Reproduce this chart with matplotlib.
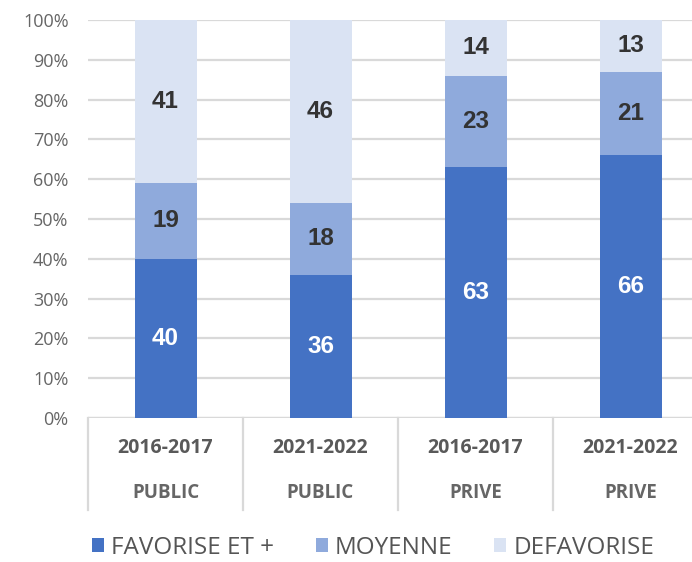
import matplotlib
matplotlib.use('Agg')
import matplotlib.pyplot as plt
from matplotlib.patches import Patch

years = ['2016-2017', '2021-2022', '2016-2017', '2021-2022']
sectors = ['PUBLIC', 'PUBLIC', 'PRIVE', 'PRIVE']
favorise = [40, 36, 63, 66]
moyenne = [19, 18, 23, 21]
defavorise = [41, 46, 14, 13]

series = [
    ('FAVORISE ET +', favorise, '#4472C4', 'white'),
    ('MOYENNE', moyenne, '#8FAADC', '#333333'),
    ('DEFAVORISE', defavorise, '#DAE3F3', '#333333'),
]

plt.rcParams['font.family'] = ['Open Sans', 'DejaVu Sans']

fig = plt.figure(figsize=(6.92, 5.62), dpi=100)
ax = fig.add_axes([88 / 692, 144 / 562, 620 / 692, 398 / 562])

x = list(range(len(years)))
bottom = [0] * len(x)
for name, vals, color, tcolor in series:
    ax.bar(x, vals, width=0.4, bottom=bottom, color=color, zorder=3)
    for xi, b, v in zip(x, bottom, vals):
        ax.text(xi, b + v / 2, str(v), ha='center', va='center', color=tcolor,
                fontsize=17.5, fontweight='bold', family='Liberation Sans', zorder=4)
    bottom = [b + v for b, v in zip(bottom, vals)]

ax.set_xlim(-0.5, 3.5)
ax.set_ylim(0, 100)
ax.set_yticks(range(0, 101, 10))
ax.set_yticklabels([f'{t}%' for t in range(0, 101, 10)], color='#666666', fontsize=13)
ax.tick_params(axis='y', length=0, pad=14)
ax.set_xticks([])
ax.yaxis.grid(True, color='#D9D9D9', linewidth=1.6, zorder=0)
for s in ax.spines.values():
    s.set_visible(False)
ax.axhline(0, color='#D9D9D9', linewidth=1.6, zorder=2)

# two-level category labels under the axis
trans = ax.get_xaxis_transform()
for xi, yr, sec in zip(x, years, sectors):
    ax.text(xi, -0.075, yr, transform=trans, ha='center', va='center',
            fontsize=14, fontweight='bold', color='#595959')
    ax.text(xi, -0.188, sec, transform=trans, ha='center', va='center',
            fontsize=13.5, fontweight='bold', color='#666666')
for sep in [-0.5, 0.5, 1.5, 2.5, 3.5]:
    ax.plot([sep, sep], [0, -0.23], transform=trans, color='#D9D9D9',
            linewidth=1.6, clip_on=False)

handles = [Patch(facecolor=c, label=n) for n, _, c, _ in series]
fig.legend(handles=handles, loc='center left', bbox_to_anchor=(70 / 692, 1 - 548 / 562),
           ncol=3, frameon=False, fontsize=17.5, handlelength=0.5, handleheight=0.5,
           handletextpad=0.3, columnspacing=1.7, labelcolor='#555555')

plt.savefig('out.png', dpi=100)
